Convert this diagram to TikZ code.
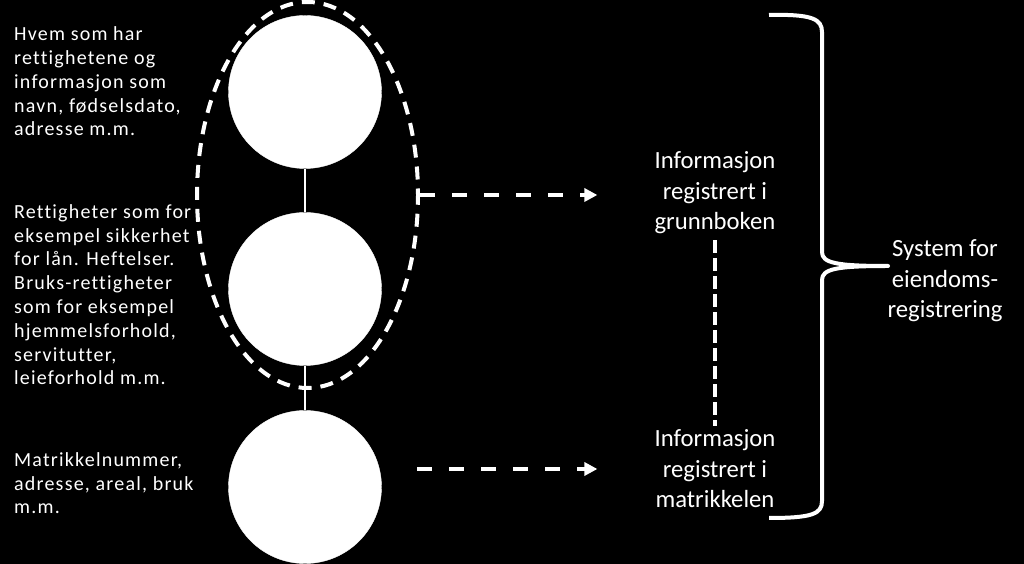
\documentclass[tikz,border=0pt]{standalone}
\usepackage{fontspec}
\setmainfont{Carlito}[Ligatures=NoCommon]
\newfontfamily\notefont{Carlito}[LetterSpace=6, Ligatures=NoCommon]
\usepackage{tikz}
\usetikzlibrary{positioning}
\usetikzlibrary{shapes.geometric}
\usetikzlibrary{arrows.meta}
\definecolor{cb}{RGB}{0,0,0}
\definecolor{cw}{RGB}{255,255,255}
\tikzstyle{record}=[circle, fill=cw, draw=cw, minimum size=153pt, inner sep=0pt]
\tikzstyle{note}=[text=cw, font=\notefont\fontsize{20}{23.8}\selectfont, align=left, inner sep=0pt, anchor=base west]
\tikzstyle{reg}=[text=cw, font=\fontsize{24.7}{30.5}\selectfont, align=center, inner sep=0pt]
\tikzstyle{group}=[ellipse, draw=cw, line width=4pt, dash pattern=on 13pt off 9pt, dash phase=6.5pt, minimum width=221pt, minimum height=386pt, inner sep=0pt]
\tikzstyle{link}=[cw, line width=1.8pt]
\tikzstyle{vlink}=[cw, line width=4pt, dash pattern=on 13pt off 5pt]
\tikzstyle{arrow}=[cw, line width=4pt, dash pattern=on 15pt off 17pt, -{Triangle[length=13pt, width=13pt]}]
\tikzstyle{brace}=[cw, line width=4pt, line join=round]

\begin{document}
\begin{tikzpicture}[x=1pt, y=1pt]
  \fill [cb] (0,0) rectangle (1024,564);
  \useasboundingbox (0,0) rectangle (1024,564);

  % records
  \node [record] (owner) at (305,472) {};
  \node [record] (rights) at (305,275) {};
  \node [record] (parcel) at (305,77) {};
  \draw [link] (owner) -- (rights);
  \draw [link] (rights) -- (parcel);
  \node [group] (grp) at (307.5,369) {};

  % descriptions (base = last line)
  \node [note] (d1) at (14,428) {Hvem som har\\rettighetene og\\informasjon som\\navn, fødselsdato,\\adresse m.m.};
  \node [note] (d2) at (14,179) {Rettigheter som for\\eksempel sikkerhet\\for lån. Heftelser.\\Bruks-rettigheter\\som for eksempel\\hjemmelsforhold,\\servitutter,\\leieforhold m.m.};
  \node [note] (d3) at (14,50) {Matrikkelnummer,\\adresse, areal, bruk\\m.m.};

  % registers
  \node [reg] (info1) at (715,371) {Informasjon\\registrert i\\grunnboken};
  \node [reg] (info2) at (715,95) {Informasjon\\registrert i\\matrikkelen};
  \coordinate (m3) at (417,95);
  \draw [arrow, shorten >=57pt] (grp.east) -- (grp.east -| info1.west);
  \draw [arrow, shorten >=57pt] (m3) -- (info2.west);
  \draw [vlink, shorten <=6pt, shorten >=4pt] (info1) -- (info2);

  % system
  \node [reg] (sys) at (945,283) {System for\\eiendoms-\\registrering};
  \draw [brace] (769,549) .. controls (812,550) and (822,545) .. (822,532)
    -- (822,312) .. controls (822,301) and (836,298) .. (888,298)
    .. controls (836,298) and (822,295) .. (822,284)
    -- (822,63) .. controls (822,50) and (812,46) .. (769,46);
\end{tikzpicture}
\end{document}
